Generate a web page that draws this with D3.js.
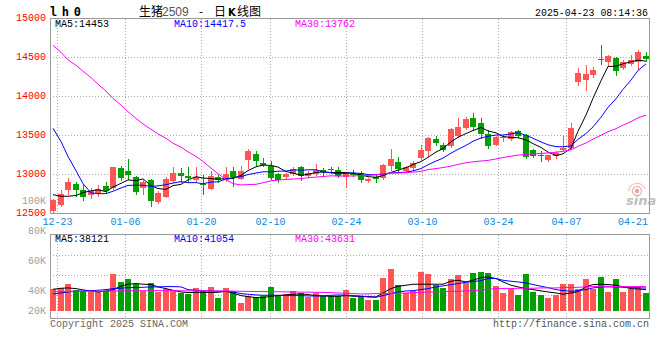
<!DOCTYPE html>
<html><head><meta charset="utf-8">
<script src="https://cdn.jsdelivr.net/npm/d3@7"></script>
<style>
html,body{margin:0;padding:0;background:#fff;}
svg{display:block;}
text{font-family:"Liberation Mono","DejaVu Sans Mono",monospace;font-size:10px;}
</style></head><body>
<svg id="c" width="660" height="360"></svg>
<script>
// ---------- data ----------
const dates = ["12-20","12-23","12-24","12-25","12-26","12-27","12-30","12-31",
"01-02","01-03","01-06","01-07","01-08","01-09","01-10","01-13","01-14","01-15","01-16","01-17",
"01-20","01-21","01-22","01-23","01-24","01-27","02-05","02-06","02-07",
"02-10","02-11","02-12","02-13","02-14","02-17","02-18","02-19","02-20","02-21",
"02-24","02-25","02-26","02-27","02-28","03-03","03-04","03-05","03-06","03-07",
"03-10","03-11","03-12","03-13","03-14","03-17","03-18","03-19","03-20","03-21",
"03-24","03-25","03-26","03-27","03-28","03-31","04-01","04-02","04-03",
"04-07","04-08","04-09","04-10","04-11","04-14","04-15","04-16","04-17","04-18","04-21","04-22"];
const tickDates = ["12-23","01-06","01-20","02-10","02-24","03-10","03-24","04-07","04-21"];

const open = [12530,12606,12800,12880,12800,12740,12760,12855,12830,13080,
13050,12965,12830,12935,12645,12715,12912,13020,12975,12925,
12875,12820,12970,12925,13040,12946,13180,13265,13145,13112,
13010,12968,13010,13095,12976,13010,13061,13074,13061,12968,
13019,13019,12912,12968,12955,13104,13159,13040,13082,13210,
13295,13452,13380,13360,13495,13593,13720,13655,13520,13380,
13465,13452,13559,13508,13316,13244,13189,13231,13308,13338,
14190,14210,14273,14486,14443,14498,14371,14422,14443,14515];
const high = [12690,12800,12950,12900,12860,12830,12865,12910,13100,13110,
13205,12975,12925,12945,12785,12965,13090,13080,13090,13100,
13000,13040,13000,13100,13090,13110,13325,13295,13210,13175,
13025,13020,13095,13112,13040,13138,13082,13095,13095,13025,
13061,13048,12950,12998,13135,13329,13218,13112,13168,13380,
13487,13495,13400,13600,13720,13733,13790,13720,13570,13500,
13507,13560,13570,13520,13325,13295,13252,13295,13495,13657,
14366,14400,14379,14655,14537,14507,14464,14530,14592,14570];
const low = [12500,12595,12750,12730,12670,12705,12720,12760,12810,12930,
12940,12755,12745,12600,12635,12710,12905,12900,12900,12920,
12745,12815,12910,12920,12850,12940,13080,13125,13104,12940,
12905,12960,12998,12925,12968,12998,12976,13019,12970,12836,
12976,12900,12900,12900,12946,13061,13048,13031,13061,13197,
13231,13380,13300,13350,13487,13585,13570,13465,13338,13375,
13431,13444,13478,13210,13218,13167,13167,13210,13295,13330,
14145,14081,14252,14422,14388,14281,14358,14400,14358,14456];
const close = [12678,12745,12910,12800,12710,12785,12820,12785,13095,12950,
13000,12775,12900,12660,12765,12945,13020,12975,12955,12965,
12860,12985,12925,13010,12970,13048,13295,13170,13118,12955,
12935,13010,13074,12976,13019,13053,13031,13053,12976,13019,
12998,12925,12942,12942,13125,13202,13070,13095,13146,13316,
13474,13410,13316,13580,13605,13712,13605,13515,13360,13478,
13478,13542,13495,13225,13240,13231,13244,13274,13338,13600,
14307,14294,14345,14464,14515,14328,14443,14473,14570,14477];

const ma5 = [12742,12721,12721,12730,12769,12790,12805,12780,12839,12887,
12930,12921,12944,12857,12820,12809,12858,12873,12932,12972,
12955,12948,12938,12949,12950,12988,13050,13099,13120,13117,
13095,13038,13018,12990,13003,13026,13031,13026,13026,13026,
13015,12994,12972,12965,12986,13027,13056,13087,13128,13166,
13220,13288,13332,13419,13477,13525,13564,13603,13559,13534,
13487,13475,13471,13444,13396,13347,13287,13243,13265,13337,
13553,13763,13977,14202,14385,14389,14419,14445,14466,14453];
const ma10 = [13593,13423,13231,13048,12883,12764,12755,12755,12785,12828,
12860,12863,12862,12848,12854,12870,12890,12909,12895,12896,
12882,12903,12906,12941,12961,12972,12999,13019,13035,13034,
13042,13044,13059,13055,13060,13061,13035,13022,13008,13015,
13021,13013,12999,12996,13006,13021,13025,13030,13047,13076,
13124,13172,13210,13274,13322,13373,13426,13468,13489,13506,
13506,13520,13537,13502,13465,13417,13381,13357,13355,13367,
13450,13525,13610,13734,13861,13971,14091,14211,14334,14417.5];
const ma30 = [14656,14566,14470,14400,14324,14243,14158,14069,13975,13890,
13805,13720,13648,13580,13520,13465,13401,13350,13291,13231,
13168,13082,13010,12934,12883,12866,12870,12874,12895,12919,
12928,12937,12942,12948,12958,12967,12974,12983,12979,12981,
12981,12986,12988,12997,13009,13018,13019,13023,13030,13041,
13062,13076,13089,13108,13129,13151,13162,13173,13181,13199,
13217,13235,13249,13257,13264,13270,13277,13285,13297,13316,
13360,13405,13452,13503,13549,13587,13633,13678,13726,13762];

const volume = [38800,41100,47800,38200,35800,33500,33500,35200,65700,51300,
56700,49000,35200,49600,34000,40000,37000,32300,30400,41100,
35200,42400,23300,40600,35200,14300,27500,25000,26300,42400,
27500,29900,35200,32300,25000,32300,27500,26300,26300,37000,
23300,26300,19100,19100,58500,74600,46000,31700,35200,69200,
66200,46000,40600,56700,63900,50100,68000,69200,68000,44200,
31700,40000,28100,65700,34000,28100,23300,28100,47800,49000,
38800,56700,40000,60800,34000,56700,34000,38800,42900,32200];
const volMa5 = [38800,40600,41200,40000,37600,35800,34000,35800,38200,44200,
47800,49000,47800,47200,43000,40000,37000,34000,32800,33400,
33400,32800,33400,35200,32200,27500,25700,23900,23900,26300,
27500,28700,29900,30500,29300,27500,26900,26300,26300,27500,
26300,26300,25700,25100,32200,40000,44200,46000,47800,47800,
47800,47800,47800,53100,54900,51900,54900,59700,60900,57900,
51900,46000,43000,40000,38200,35800,34000,32200,29900,32200,
34600,43000,47200,47800,47200,46000,43000,40000,39400,38121];
const volMa10 = [30500,32200,34000,35200,35800,36400,37000,38200,40000,40600,
41800,41800,42400,43000,43000,43600,43600,43000,38200,37000,
35800,35800,35200,34600,34000,31100,29900,28700,28100,28100,
28100,27500,27500,27500,26900,26900,26900,28100,28700,28100,
27500,26300,25100,24500,27500,31100,34000,35800,36400,38200,
40000,43000,44800,47200,49000,51300,52500,54300,57900,57900,
54900,53100,51900,50100,47200,44200,41800,38200,36400,35200,
36400,38200,41200,43000,43000,43000,42400,41800,41200,41054];
const volMa30 = [35200,35000,35000,35200,35200,35200,35200,35500,35800,36000,
36200,36200,36200,36400,36400,36400,36400,36200,36000,36000,
36000,35800,35800,35800,35500,35200,35000,34800,34600,34600,
34400,34200,34000,33800,33600,33400,33200,32800,32200,31600,
31100,30500,30500,31100,31100,31100,31600,32200,32800,33400,
34000,34000,34600,35200,35200,35800,36400,37600,38800,40000,
40000,40000,40600,40600,40600,41200,41200,41200,41800,41800,
42400,43000,43600,44200,44200,43600,43600,43600,43600,43631];

const priceTicks = [15000,14500,14000,13500,13000,12500];
const priceGrid = [14500,14000,13500,13000];
const volTicks = [100000,80000,60000,40000,20000];
const volTickLabels = ["100K","80K","60K","40K","20K"];
const priceLegend = ["MA5:14453","MA10:14417.5","MA30:13762"];
const volLegend = ["MA5:38121","MA10:41054","MA30:43631"];
const maColors = ["#000000","#0000ff","#ff00ff"];
const symbolText = "l h 0";
const titleParts = ["生猪","2509","-","日","K","线图"];
const stamp = "2025-04-23 08:14:36";
const copyright = "Copyright 2025 SINA.COM";
const siteUrl = "http://finance.sina.com.cn";

// ---------- layout ----------
const UP = "#ff5555", DOWN = "#00a000";
const L = 50, R = 650;
const mainTop = 18.5, mainBot = 213.5, volTop = 234.5, volBot = 318.5;
const svg = d3.select("#c");

const n = dates.length;
const xBand = d3.scaleBand().domain(d3.range(n)).range([L, R]);
const xGrid = d3.scaleLinear().domain([0, n - 1]).range([L, R]);
const y = d3.scaleLinear().domain([12500, 15000]).range([mainBot, mainTop]);
const yVol = d3.scaleLinear().domain([0, 100000]).range([311, 255]);
const yVolLabel = d3.scaleLinear().domain([0, 100000]).range([352.5, 202.5]);
const volGridScale = d3.scaleLinear().domain([0, 4]).range([235, 316]);
const cx = i => Math.round(xBand(i)) + 3;

// clip paths
const defs = svg.append("defs");
defs.append("clipPath").attr("id","cm").append("rect").attr("x",L).attr("y",mainTop).attr("width",R-L).attr("height",mainBot-mainTop);
defs.append("clipPath").attr("id","cv").append("rect").attr("x",L).attr("y",volTop).attr("width",R-L).attr("height",volBot-volTop);

const gridStyle = s => s.attr("stroke","#a8a8a8").attr("stroke-width",1).attr("stroke-dasharray","1,2").attr("shape-rendering","crispEdges");

// vertical date grid
const tickIdx = tickDates.map(d => dates.indexOf(d));
tickIdx.filter(i => i < n - 2).forEach(i => {
  const gx = Math.floor(xGrid(i)) + 0.5;
  svg.append("line").attr("x1",gx).attr("x2",gx).attr("y1",mainTop).attr("y2",mainBot).call(gridStyle);
  svg.append("line").attr("x1",gx).attr("x2",gx).attr("y1",volTop).attr("y2",volBot).call(gridStyle);
});
// horizontal price grid
priceGrid.forEach(v => {
  svg.append("line").attr("x1",L).attr("x2",R).attr("y1",y(v)).attr("y2",y(v)).call(gridStyle);
});
// horizontal volume grid
[1,2,3].forEach(k => {
  const gy = Math.floor(volGridScale(k)) + 0.5;
  svg.append("line").attr("x1",L).attr("x2",R).attr("y1",gy).attr("y2",gy).call(gridStyle);
});

// borders
svg.append("rect").attr("x",L+0.5).attr("y",mainTop).attr("width",R-L-1).attr("height",mainBot-mainTop)
  .attr("fill","none").attr("stroke","#999").attr("shape-rendering","crispEdges");
svg.append("rect").attr("x",L+0.5).attr("y",volTop).attr("width",R-L-1).attr("height",volBot-volTop)
  .attr("fill","none").attr("stroke","#999").attr("shape-rendering","crispEdges");

// sina watermark
const wm = svg.append("g").attr("opacity",0.75);
wm.append("circle").attr("cx",637).attr("cy",191).attr("r",2.2).attr("fill","#f08080");
wm.append("circle").attr("cx",637).attr("cy",191).attr("r",4.5).attr("fill","none").attr("stroke","#f4a0a0").attr("stroke-width",1.4);
wm.append("path").attr("d","M629,192 A8,7 0 0 1 645,189").attr("fill","none").attr("stroke","#f4b0b0").attr("stroke-width",1.2);
wm.append("text").attr("x",626).attr("y",205).text("sina")
  .style("font-family","DejaVu Sans").style("font-size","13px").style("font-weight","bold").style("font-style","italic").attr("fill","#aaaaaa");

// candles
const cg = svg.append("g").attr("clip-path","url(#cm)");
d3.range(n).forEach(i => {
  const up = close[i] >= open[i];
  const col = up ? UP : DOWN;
  const x0 = Math.round(xBand(i));
  cg.append("line").attr("x1",x0+3.5).attr("x2",x0+3.5).attr("y1",Math.round(y(high[i]))).attr("y2",Math.round(y(low[i]))+1)
    .attr("stroke",col).attr("shape-rendering","crispEdges");
  const top = Math.round(y(Math.max(open[i],close[i])));
  const bot = Math.round(y(Math.min(open[i],close[i])));
  cg.append("rect").attr("x",x0).attr("y",top).attr("width",6).attr("height",Math.max(1,bot-top))
    .attr("fill",col).attr("shape-rendering","crispEdges");
});
// MA lines (price)
const lineP = d3.line().x((d,i) => cx(i)).y(d => y(d));
[ma5, ma10, ma30].forEach((arr,k) => {
  cg.append("path").attr("d",lineP(arr)).attr("fill","none").attr("stroke",maColors[k]).attr("stroke-width",1);
});

// volume bars
const vg = svg.append("g").attr("clip-path","url(#cv)");
d3.range(n).forEach(i => {
  const up = close[i] >= open[i];
  const x0 = Math.round(xBand(i));
  const t = Math.round(yVol(volume[i]));
  vg.append("rect").attr("x",x0).attr("y",t).attr("width",6).attr("height",Math.round(yVol(0))-t)
    .attr("fill", up ? UP : DOWN).attr("shape-rendering","crispEdges");
});
const lineV = d3.line().x((d,i) => cx(i)).y(d => yVol(d));
[volMa5, volMa10, volMa30].forEach((arr,k) => {
  vg.append("path").attr("d",lineV(arr)).attr("fill","none").attr("stroke",maColors[k]).attr("stroke-width",1);
});

// price axis labels
priceTicks.forEach(v => {
  svg.append("text").attr("x",46).attr("y",y(v)+2).attr("text-anchor","end").attr("fill","#ff0000").text(v);
});
// volume axis labels (clamped at the pane bottom like the original)
volTicks.forEach((v,k) => {
  svg.append("text").attr("x",46).attr("y",Math.min(yVolLabel(v), 312.5)+1.5).attr("text-anchor","end")
    .attr("fill","#a0a0a0").text(volTickLabels[k]);
});
// date labels
tickIdx.forEach((i,k) => {
  const gx = Math.floor(xGrid(i)) + 0.5;
  const t = svg.append("text").attr("x",gx).attr("y",225).attr("text-anchor","middle").attr("fill","#0a88dc").text(tickDates[k]);
  const w = tickDates[k].length * 6;
  if (gx + w/2 > R - 2) t.attr("x", R - 2).attr("text-anchor","end");
});

// legends
const legX = [55, 174, 295];
priceLegend.forEach((s,k) => svg.append("text").attr("x",legX[k]).attr("y",27).attr("fill",maColors[k]).text(s));
volLegend.forEach((s,k) => svg.append("text").attr("x",legX[k]).attr("y",241.5).attr("fill",maColors[k]).text(s));

// titles
svg.append("text").attr("x",50).attr("y",15.5).text(symbolText)
  .style("font-family","DejaVu Sans Mono").style("font-size","12px").style("font-weight","bold").style("letter-spacing","-1.3px");
const cjk = s => s.style("font-family","'Noto Sans CJK SC'").style("font-size","12px");
svg.append("text").attr("x",139).attr("y",15.5).text(titleParts[0]).call(cjk).attr("fill","#000");
svg.append("text").attr("x",162).attr("y",15.5).text(titleParts[1]).style("font-family","Liberation Sans").style("font-size","12px").attr("fill","#555");
svg.append("text").attr("x",199).attr("y",15.5).text(titleParts[2]).call(cjk).attr("fill","#000");
svg.append("text").attr("x",214).attr("y",15.5).text(titleParts[3]).call(cjk).attr("fill","#000");
svg.append("text").attr("x",228).attr("y",15.5).text(titleParts[4]).style("font-family","DejaVu Sans").style("font-size","10px").style("font-weight","bold").attr("fill","#000");
svg.append("text").attr("x",237).attr("y",15.5).text(titleParts[5]).call(cjk).attr("fill","#000");
svg.append("text").attr("x",648).attr("y",15.5).attr("text-anchor","end").text(stamp).style("font-size","11px").attr("textLength",113).attr("lengthAdjust","spacingAndGlyphs");

// footer
svg.append("text").attr("x",50).attr("y",327).attr("fill","#666").text(copyright);
svg.append("text").attr("x",649).attr("y",327).attr("text-anchor","end").attr("fill","#555").text(siteUrl);
</script>
</body></html>
